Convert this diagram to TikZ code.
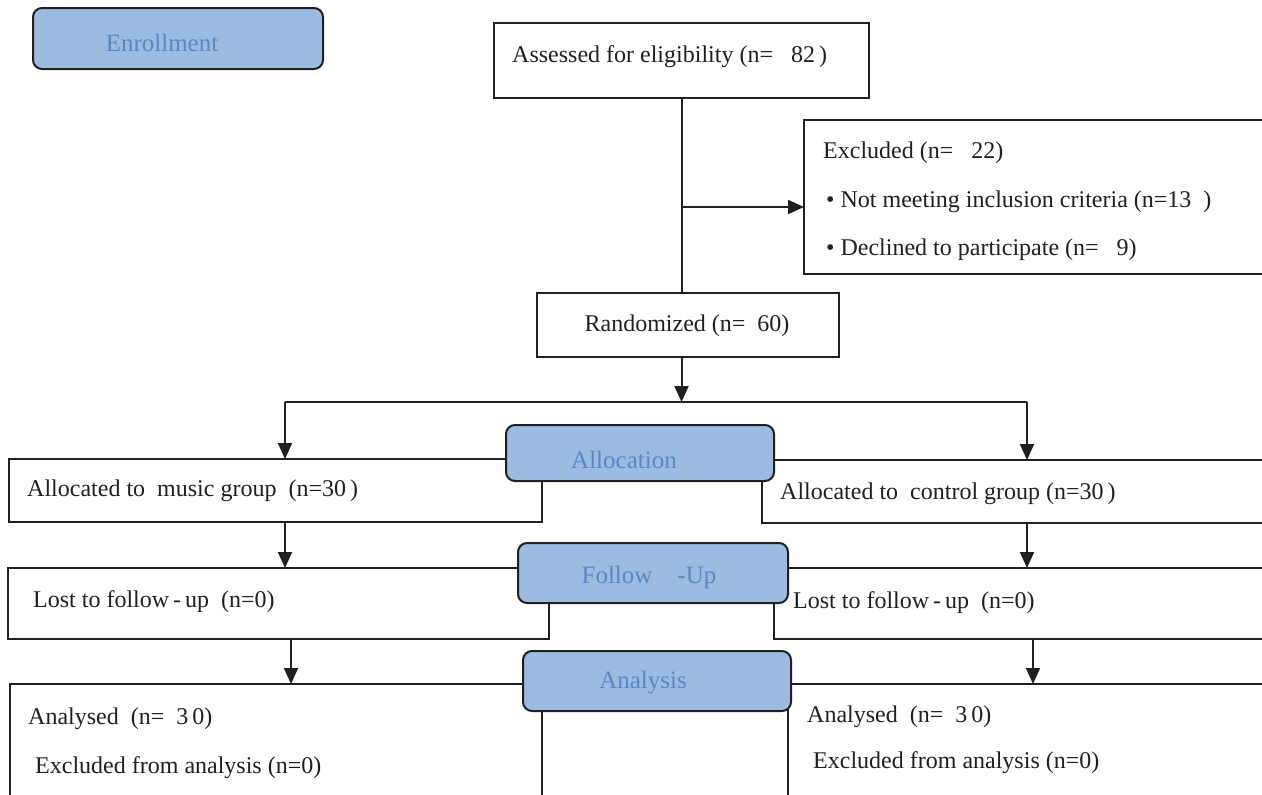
\documentclass[tikz,border=0pt]{standalone}
\usepackage{fontspec}
\setmainfont{Liberation Serif}
\usetikzlibrary{arrows.meta}
\definecolor{phase}{HTML}{9BBBE1}
\definecolor{phasetext}{HTML}{5A88C6}
\definecolor{ink}{HTML}{231F20}
\tikzset{
  x=1pt, y=-1pt,
  box/.style={draw=ink, line width=2pt, fill=white, anchor=north west, inner sep=0pt, outer sep=0pt},
  phasebox/.style={draw=ink, line width=2pt, fill=phase, rounded corners=9pt, anchor=north west, inner sep=0pt, outer sep=0pt},
  lbl/.style={anchor=west, inner sep=0pt, font=\fontsize{24}{28}\selectfont, text=ink},
  clbl/.style={inner sep=0pt, font=\fontsize{24}{28}\selectfont, text=ink},
  plbl/.style={inner sep=0pt, font=\fontsize{25}{29}\selectfont, text=phasetext},
  conn/.style={draw=ink, line width=2pt},
  arr/.style={draw=ink, line width=2pt, -{Triangle[width=14pt,length=16pt]}},
}
\begin{document}
\begin{tikzpicture}
\useasboundingbox (0,0) rectangle (1262,795);
\clip (0,0) rectangle (1262,795);
% Enrollment
\node[phasebox, minimum width=290pt, minimum height=61pt] (enroll) at (33,8) {};
\node[plbl] (enrollT) at (162,43) {Enrollment};
% Assessed
\node[box, minimum width=375pt, minimum height=75pt] (assess) at (494,23) {};
\node[lbl] (assessT) at (512,57) {Assessed for eligibility (n=\ \ \ 82\,)};
% Excluded
\node[box, minimum width=470pt, minimum height=154pt] (excl) at (804,120) {};
\node[lbl] (exclT1) at (823,153) {Excluded (n=\ \ \ 22)};
\node[lbl] (exclT2) at (826,202) {\textbullet\ Not meeting inclusion criteria (n=13\ \ )};
\node[lbl] (exclT3) at (826,250) {\textbullet\ Declined to participate (n=\ \ \ 9)};
% Randomized
\node[box, minimum width=302pt, minimum height=64pt] (rand) at (537,293) {};
\node[clbl] (randT) at (687,326) {Randomized (n=\ \ 60)};
% connectors top
\coordinate (b1) at (681.5,207);
\draw[conn] (assess.south) -- (assess.south |- rand.north);
\draw[arr] (b1) -- (b1 -| excl.west);
\coordinate (split) at (681.5,402);
\draw[arr] (assess.south |- rand.south) -- (split);
\coordinate (sl) at (285,402);
\coordinate (sr) at (1027,402);
% allocated boxes
\node[box, minimum width=533pt, minimum height=63pt] (music) at (9,459) {};
\node[box, minimum width=510pt, minimum height=63pt] (control) at (762,460) {};
\node[lbl] (musicT) at (27,491) {Allocated to\ \ music group\ \ (n=30\,)};
\node[lbl] (controlT) at (780,494) {Allocated to\ \ control group (n=30\,)};
\draw[conn] (sl) -- (sr);
\draw[arr] (sl) -- (sl |- music.north);
\draw[arr] (sr) -- (sr |- control.north);
\node[phasebox, minimum width=268pt, minimum height=56pt] (alloc) at (506,425) {};
\node[plbl] (allocT) at (624,460) {Allocation};
% lost to follow-up
\node[box, minimum width=541pt, minimum height=71pt] (lostL) at (8,568) {};
\node[box, minimum width=500pt, minimum height=71pt] (lostR) at (774,568) {};
\node[lbl] (lostLT) at (33,602) {Lost to follow\,-\,up\ \ (n=0)};
\node[lbl] (lostRT) at (793,603) {Lost to follow\,-\,up\ \ (n=0)};
\draw[arr] (music.south -| sl) -- (lostL.north -| sl);
\draw[arr] (control.south -| sr) -- (lostR.north -| sr);
\node[phasebox, minimum width=270pt, minimum height=60pt] (follow) at (518,543) {};
\node[plbl] (followT) at (649,577) {Follow\ \ \ \ -Up};
% analysed
\coordinate (a3) at (291,639);
\coordinate (a4) at (1033,639);
\node[box, minimum width=532pt, minimum height=150pt] (anaL) at (10,684) {};
\node[box, minimum width=490pt, minimum height=150pt] (anaR) at (788,684) {};
\draw[arr] (a3) -- (a3 |- anaL.north);
\draw[arr] (a4) -- (a4 |- anaR.north);
\node[lbl] (anaLT1) at (28,719) {Analysed\ \ (n=\ \ 3\,0)};
\node[lbl] (anaLT2) at (35,768) {Excluded from analysis (n=0)};
\node[lbl] (anaRT1) at (807,717) {Analysed\ \ (n=\ \ 3\,0)};
\node[lbl] (anaRT2) at (813,763) {Excluded from analysis (n=0)};
\node[phasebox, minimum width=268pt, minimum height=60pt] (analysis) at (523,651) {};
\node[plbl] (analysisT) at (643,683) {Analysis};
\end{tikzpicture}
\end{document}
